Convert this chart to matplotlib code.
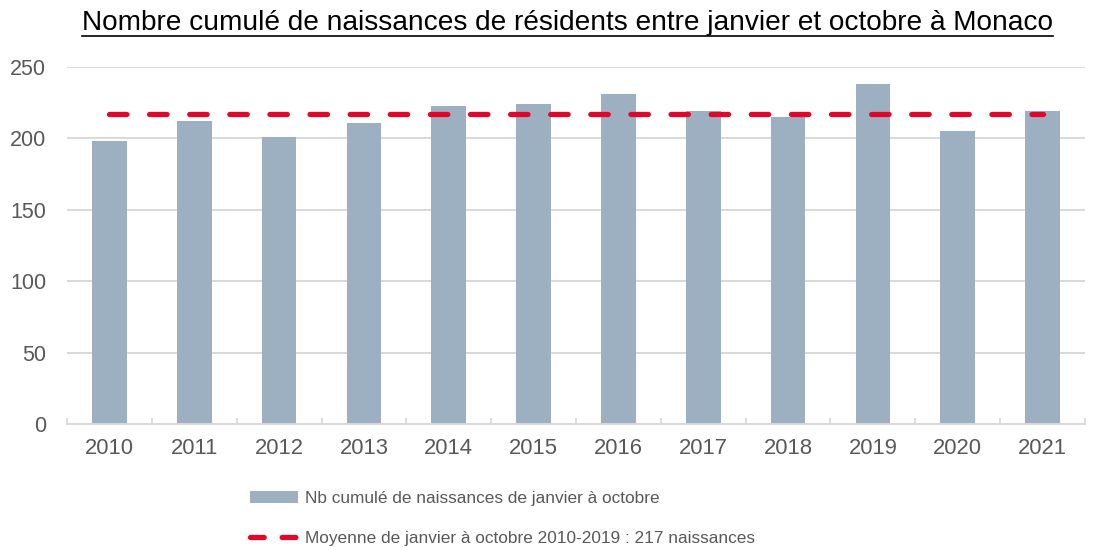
import numpy as np
import matplotlib.pyplot as plt
from matplotlib.patches import Patch
from matplotlib.lines import Line2D

plt.rcParams['font.family'] = ['Liberation Sans', 'DejaVu Sans']

years = ['2010', '2011', '2012', '2013', '2014', '2015', '2016', '2017', '2018', '2019', '2020', '2021']
births = [198, 212, 201, 211, 223, 224, 231, 219, 215, 238, 205, 219]
mean_births = 217

BAR = '#9CB0C1'
RED = '#E3062B'
GREY_TXT = '#595959'
GRID = '#D9D9D9'

fig = plt.figure(figsize=(10.97, 5.47), dpi=100)
ax = fig.add_axes([67 / 1097, 1 - 424 / 547, (1085 - 67) / 1097, (424 - 67) / 547])

x = np.arange(len(years))
ax.bar(x, births, width=0.41, color=BAR, zorder=2)
ax.plot(x, [mean_births] * len(x), color=RED, lw=3.8, dashes=(3.3, 4.3),
        dash_capstyle='round', zorder=3)

ax.set_xlim(-0.5, len(years) - 0.5)
ax.set_ylim(0, 250)
ax.set_yticks([0, 50, 100, 150, 200, 250])
ax.set_xticks(x)
ax.set_xticklabels(years)
ax.set_xticks(np.arange(-0.5, len(years)), minor=True)
ax.tick_params(axis='x', which='major', length=0, pad=10, labelsize=15.8, labelcolor=GREY_TXT)
ax.tick_params(axis='x', which='minor', length=4.5, width=1.3, color=GRID, direction='in')
ax.tick_params(axis='y', length=0, pad=15, labelsize=15.5, labelcolor=GREY_TXT)
ax.grid(axis='y', color=GRID, lw=1.4, zorder=0)
for s in ['top', 'right', 'left']:
    ax.spines[s].set_visible(False)
ax.spines['bottom'].set_color(GRID)
ax.spines['bottom'].set_linewidth(1.4)

# legend
h_bar = Patch(facecolor=BAR, edgecolor='none')
h_line = Line2D([], [], color=RED, lw=3.8, dashes=(2.6, 3.4), dash_capstyle='round')
fig.legend([h_bar, h_line],
           ['Nb cumulé de naissances de janvier à octobre',
            'Moyenne de janvier à octobre 2010-2019 : 217 naissances'],
           loc='upper left', bbox_to_anchor=(250 / 1097, 1 - 491 / 547),
           frameon=False, fontsize=12.4, labelcolor=GREY_TXT,
           handlelength=2.78, handleheight=0.7, handletextpad=0.4,
           labelspacing=1.45, borderpad=0, borderaxespad=0)

# underlined title
title = fig.text(567 / 1097, 1 - 30 / 547, 'Nombre cumulé de naissances de résidents entre janvier et octobre à Monaco',
                 ha='center', va='baseline', fontsize=20.2, color='black')
fig.canvas.draw()
bb = title.get_window_extent().transformed(fig.transFigure.inverted())
fig.add_artist(Line2D([bb.x0, bb.x1], [1 - 35.5 / 547] * 2, color='black', lw=1.2,
                      transform=fig.transFigure))

fig.savefig('out.png', dpi=100)
